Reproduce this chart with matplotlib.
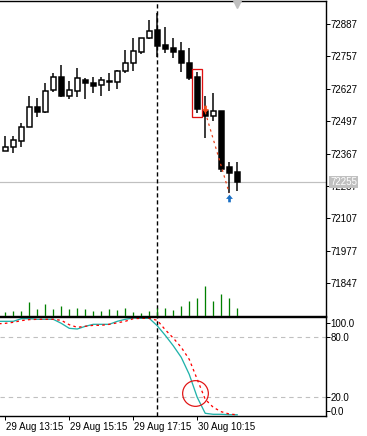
import matplotlib
matplotlib.use("Agg")
import matplotlib.pyplot as plt
import matplotlib.transforms as mtrans
from matplotlib.patches import Rectangle
from matplotlib.path import Path
import numpy as np

plt.rcParams['font.family'] = ['Liberation Sans', 'DejaVu Sans']
plt.rcParams['font.size'] = 7

# M15 bars, 29-30 Aug
opens = [72378, 72394, 72418, 72474, 72554, 72534, 72622, 72674, 72598, 72618,
         72662, 72650, 72642, 72658, 72654, 72698, 72730, 72774, 72830, 72862,
         72802, 72790, 72778, 72730, 72674, 72538, 72518, 72538, 72314, 72294]
highs = [72438, 72438, 72490, 72598, 72590, 72650, 72690, 72722, 72658, 72710,
         72670, 72674, 72674, 72690, 72702, 72782, 72830, 72830, 72903, 72931,
         72874, 72830, 72814, 72790, 72694, 72598, 72610, 72538, 72334, 72334]
lows = [72376, 72370, 72394, 72474, 72514, 72530, 72614, 72594, 72586, 72594,
        72586, 72610, 72598, 72618, 72626, 72690, 72698, 72766, 72826, 72754,
        72770, 72750, 72694, 72662, 72530, 72430, 72498, 72294, 72209, 72217]
closes = [72394, 72422, 72474, 72554, 72534, 72618, 72674, 72598, 72622, 72670,
          72650, 72638, 72662, 72654, 72698, 72730, 72778, 72830, 72858, 72798,
          72786, 72774, 72730, 72670, 72546, 72518, 72538, 72306, 72290, 72255]
volumes = [100, 125, 125, 350, 175, 300, 175, 250, 175, 200,
           175, 125, 125, 175, 150, 200, 100, 75, 125, 200,
           200, 150, 250, 375, 450, 750, 375, 550, 450, 200]

# stochastic, first value belongs to the bar before the window
stoch_main = [96, 96, 96, 98.6, 98.6, 98, 98, 98, 94, 89, 88.3,
              91, 93, 93, 93, 96, 98, 99.3, 99, 99, 91.6,
              82, 71.6, 60, 43, 20, 4, 3, 3, 2.6, 2.5]
stoch_signal = [93.5, 94, 95, 96.7, 97.7, 98, 98, 98, 97, 92.6, 90,
                91, 92, 92, 93, 94.5, 96, 98.6, 99, 99, 97,
                87.6, 79.3, 70, 58, 38, 18, 10, 5.6, 3.3, 2.5]

price_ticks = [72887, 72757, 72627, 72497, 72367, 72237, 72107, 71977, 71847]
last_price = 72255
stoch_levels = [80, 20]
stoch_tick_pos = [94.6, 80, 20, 6.3]
stoch_tick_labels = ["100.0", "80.0", "20.0", "0.0"]
time_tick_pos = [0, 8, 16, 24]
time_labels = ["29 Aug 13:15", "29 Aug 15:15", "29 Aug 17:15", "30 Aug 10:15"]

sell_bar, sell_price = 25, 72547
buy_bar, buy_price = 28, 72191
trade_line = ([25, 28], [72534, 72209])
box_bars = (23.36, 24.59)
box_prices = (72515, 72706)
sep_bar = 19
circle_pt = (23.7, 24)

px = 0.72  # one pixel in points
fig = plt.figure(figsize=(3.67, 4.36), dpi=100)
ax = fig.add_axes([0, 0.276, 0.888, 0.722])
ax2 = fig.add_axes([0, 0.0452, 0.888, 0.2270])

n = len(opens)
x = np.arange(n)
o = np.array(opens); c = np.array(closes)

# volumes
axv = ax.twinx()
axv.vlines(x, 0, volumes, color='#008000', lw=1.3 * px)
axv.set_ylim(0, 7900)
axv.axis('off')

# candles
ax.vlines(x, lows, highs, color='black', lw=1.5 * px, zorder=3)
bull = c >= o
bot = np.minimum(o, c)
hgt = np.maximum(np.abs(c - o), 2)
ax.bar(x, hgt, bottom=bot, width=0.6, color=np.where(bull, 'white', 'black'),
       edgecolor='black', linewidth=1.5 * px, zorder=4)

ax.axhline(last_price, color='#c0c0c0', lw=1.2 * px, zorder=1)
ax.axvline(sep_bar, color='black', lw=1.4 * px, dashes=(3, 2), zorder=2)
ax2.axvline(sep_bar, color='black', lw=1.4 * px, dashes=(3, 2), zorder=2)

ax.add_patch(Rectangle((box_bars[0], box_prices[0]), box_bars[1] - box_bars[0],
                       box_prices[1] - box_prices[0], fill=False,
                       edgecolor='#e01010', lw=1.3 * px, zorder=6))

down_arrow = Path([(-0.35, 1), (0.35, 1), (0.35, 0.1), (0.9, 0.1), (0, -1),
                   (-0.9, 0.1), (-0.35, 0.1), (-0.35, 1)])
up_arrow = Path([(-0.35, -1), (0.35, -1), (0.35, -0.1), (0.9, -0.1), (0, 1),
                 (-0.9, -0.1), (-0.35, -0.1), (-0.35, -1)])
ax.plot(trade_line[0], trade_line[1], color='#e8401a', lw=1.2 * px,
        dashes=(2, 3), zorder=5)
ax.plot([sell_bar], [sell_price], marker=down_arrow, ms=5.5, color='#f04a1a',
        mew=0, zorder=7)
ax.plot([buy_bar], [buy_price], marker=up_arrow, ms=5.5, color='#1a6fc4',
        mew=0, zorder=7)

# chart shift marker
trans = mtrans.blended_transform_factory(ax.transData, ax.transAxes)
ax.plot([29], [0.991], marker='v', ms=6, color='#c0c0c0', transform=trans,
        clip_on=False, zorder=8)

ax.set_xlim(-0.66, 40.09)
ax.set_ylim(71717, 72980)
ax.yaxis.tick_right()
ax.set_yticks(price_ticks)
ax.set_yticklabels([str(p) for p in price_ticks])
ax.tick_params(axis='y', length=3.5 * px, width=px, pad=1, colors='black')
ax.set_xticks([])
ax.spines['left'].set_visible(False)
for s in ['top', 'right', 'bottom']:
    ax.spines[s].set_linewidth(1.4 * px)

tb = mtrans.blended_transform_factory(ax.transAxes, ax.transData)
ax.text(1.013, last_price, str(last_price), transform=tb, ha='left', va='center',
        color='white', fontsize=7, zorder=10, clip_on=False,
        bbox=dict(boxstyle='square,pad=0.1', fc='#c0c0c0', ec='none'))

# stochastic window
xs = np.arange(-1, n)
ax2.plot(xs, stoch_main, color='#20b2aa', lw=1.3 * px)
ax2.plot(xs, stoch_signal, color='#ff0000', lw=1.3 * px, dashes=(2, 2.5))
for lv in stoch_levels:
    ax2.axhline(lv, color='#c0c0c0', lw=1.1 * px, dashes=(4, 3.5), zorder=0)
ax2.plot([circle_pt[0]], [circle_pt[1]], marker='o', ms=18.5, mfc='none',
         mec='#e01010', mew=1.2 * px)
ax2.set_xlim(-0.66, 40.09)
ax2.set_ylim(1, 100)
ax2.yaxis.tick_right()
ax2.set_yticks(stoch_tick_pos)
ax2.set_yticklabels(stoch_tick_labels)
ax2.tick_params(axis='y', length=3.5 * px, width=px, pad=1)
ax2.set_xticks(time_tick_pos)
ax2.set_xticklabels(time_labels, ha='left')
ax2.tick_params(axis='x', length=4 * px, width=px, pad=1.5)
ax2.spines['left'].set_visible(False)
for s in ['top', 'right', 'bottom']:
    ax2.spines[s].set_linewidth(1.4 * px)
for lbl in ax2.get_xticklabels():
    lbl.set_transform(lbl.get_transform() + mtrans.ScaledTranslation(1 / 100, 0, fig.dpi_scale_trans))

fig.savefig("out.png", dpi=100)
